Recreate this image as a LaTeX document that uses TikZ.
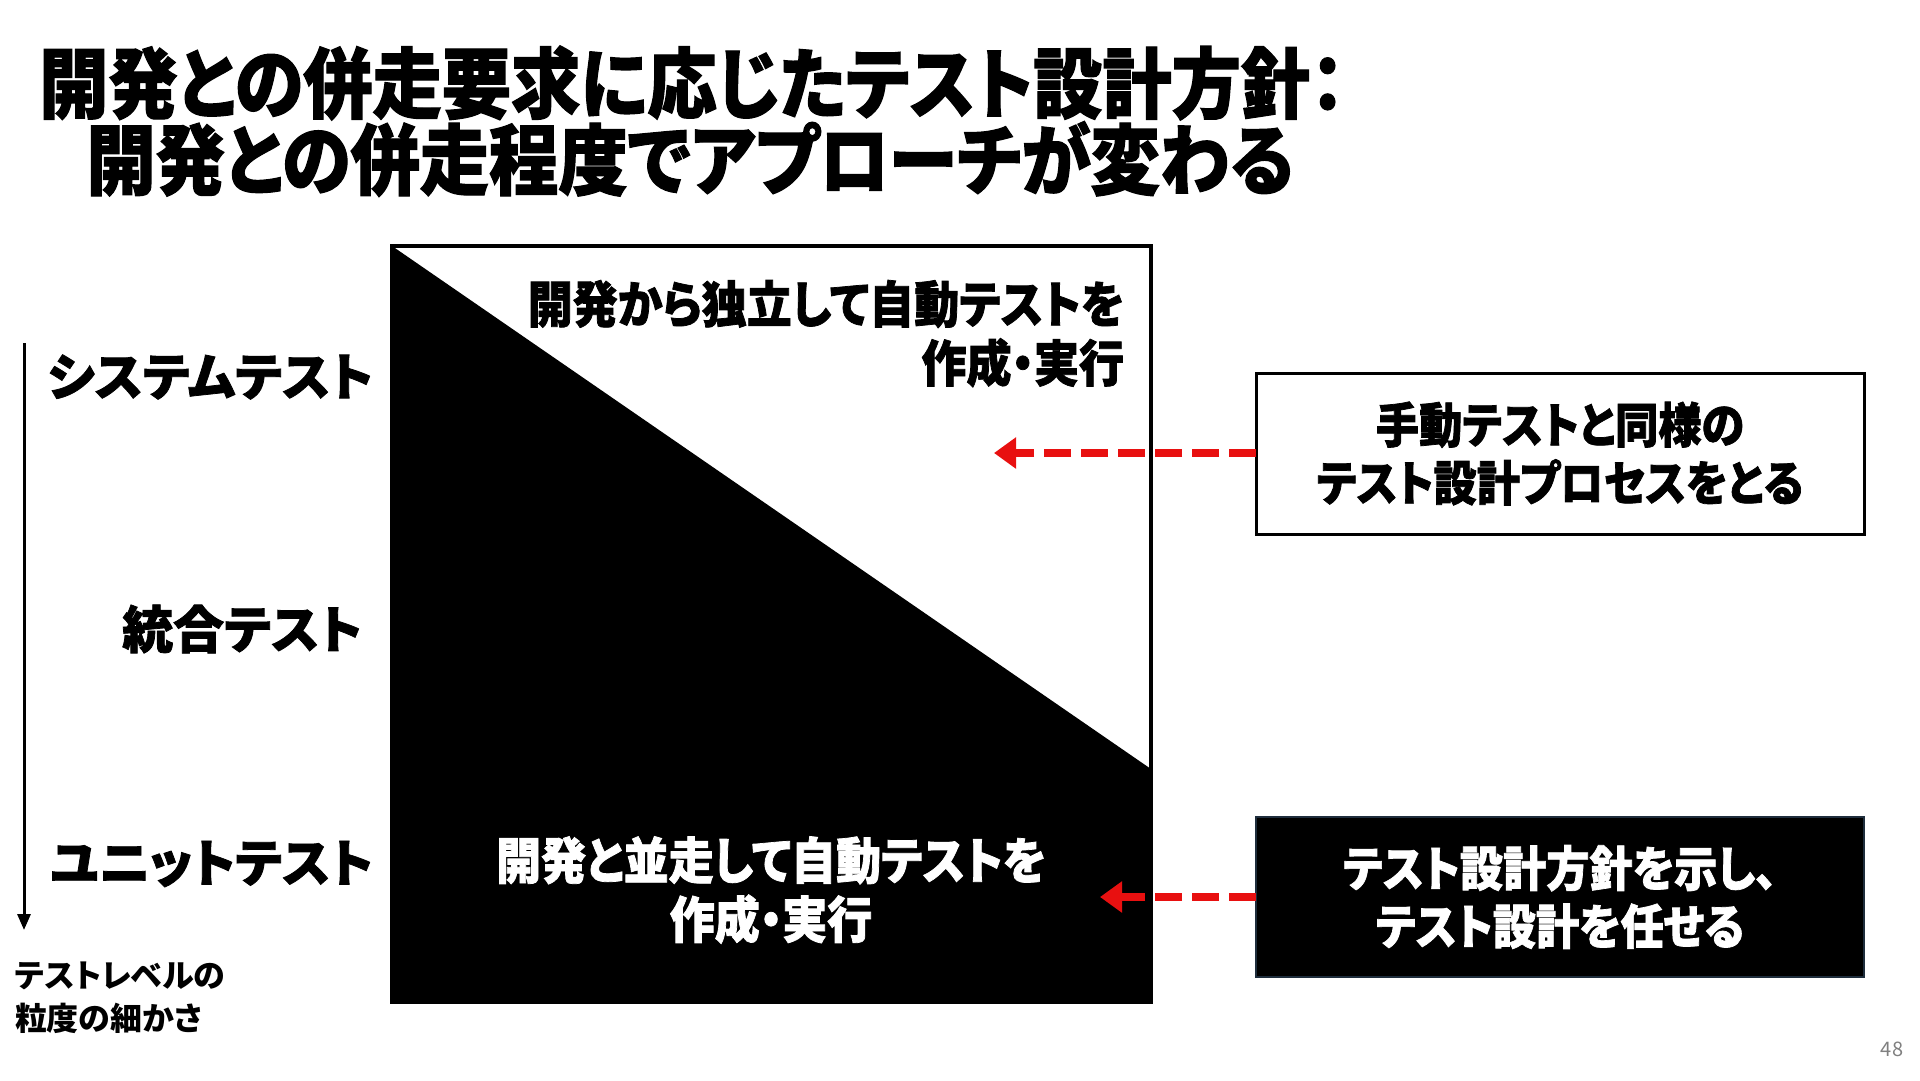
\documentclass[tikz,border=0pt]{standalone}
\usepackage{fontspec}
\setmainfont{Noto Sans CJK JP}[RawFeature=+palt]
\newfontfamily\jpb{Noto Sans CJK JP}[RawFeature=+palt,FakeStretch=0.9,FakeBold=1.5]
\newfontfamily\jpw{Noto Sans CJK JP}[RawFeature=+palt,FakeBold=1.5]
\newfontfamily\jpn{Noto Sans CJK JP}[RawFeature=+palt]
\usetikzlibrary{arrows.meta}
\definecolor{arrowred}{RGB}{232,16,16}
\tikzset{
  every node/.style={inner sep=0pt, outer sep=0pt},
  title/.style={font=\jpb\bfseries\fontsize{77}{80}\selectfont, anchor=center},
  sqtxt/.style={font=\jpb\bfseries\fontsize{50}{59}\selectfont, align=right},
  lvl/.style={font=\jpw\bfseries\fontsize{51}{56}\selectfont, anchor=east},
  boxtxt/.style={font=\jpb\bfseries\fontsize{48}{58}\selectfont, align=center},
  small/.style={font=\jpn\bfseries\fontsize{32}{43}\selectfont, align=left, anchor=north west},
  redarrow/.style={draw=arrowred, line width=8pt, dash pattern=on 27pt off 10pt, -{Triangle[length=22pt,width=30pt]}},
}
\begin{document}
\begin{tikzpicture}[x=1pt,y=-1pt]
\useasboundingbox[fill=white] (0,0) rectangle (1920,1080);
% title
\node[title] (t1) at (692,83) {開発との併走要求に応じたテスト設計方針：};
\node[title] (t2) at (690,159) {開発との併走程度でアプローチが変わる};
% square
\fill[black] (392,246) -- (1151,769) -- (1151,1002) -- (392,1002) -- cycle;
\draw[black, line width=4pt] (392,246) rectangle (1151,1002);
\node[sqtxt, anchor=north east] (ind) at (1124,280) {開発から独立して自動テストを\\作成・実行};
\node[sqtxt, align=center, text=white, anchor=center] (par) at (771,890) {開発と並走して自動テストを\\作成・実行};
% levels
\node[lvl] (sys) at (373,377) {システムテスト};
\node[lvl] (int) at (362,629) {統合テスト};
\node[lvl] (unit) at (373,864) {ユニットテスト};
\coordinate (vtop) at (24,343);
\coordinate (vbot) at (24,930);
\draw[line width=3pt, -{Triangle[length=16pt,width=13pt]}] (vtop) -- (vbot);
\node[small] (gran) at (15,962) {テストレベルの\\粒度の細かさ};
% right boxes
\node[draw=black, line width=3pt, fill=white, minimum width=608pt, minimum height=161pt, anchor=north west] (b1) at (1256,373) {};
\node[boxtxt] (b1t) at (b1.center) {手動テストと同様の\\テスト設計プロセスをとる};
\node[draw={rgb,255:red,30;green,45;blue,60}, line width=2pt, fill=black, minimum width=608pt, minimum height=160pt, anchor=north west] (b2) at (1256,817) {};
\node[boxtxt, text=white] (b2t) at (b2.center) {テスト設計方針を示し、\\テスト設計を任せる};
% red arrows
\coordinate (a1end) at (994,453);
\coordinate (a2end) at (1100,897);
\draw[redarrow] (b1.west |- a1end) -- (a1end);
\draw[redarrow] (b2.west |- a2end) -- (a2end);
% page number
\node[font=\jpn\fontsize{20}{24}\selectfont, text=gray, anchor=center] (pg) at (1892,1049) {48};
\end{tikzpicture}
\end{document}
